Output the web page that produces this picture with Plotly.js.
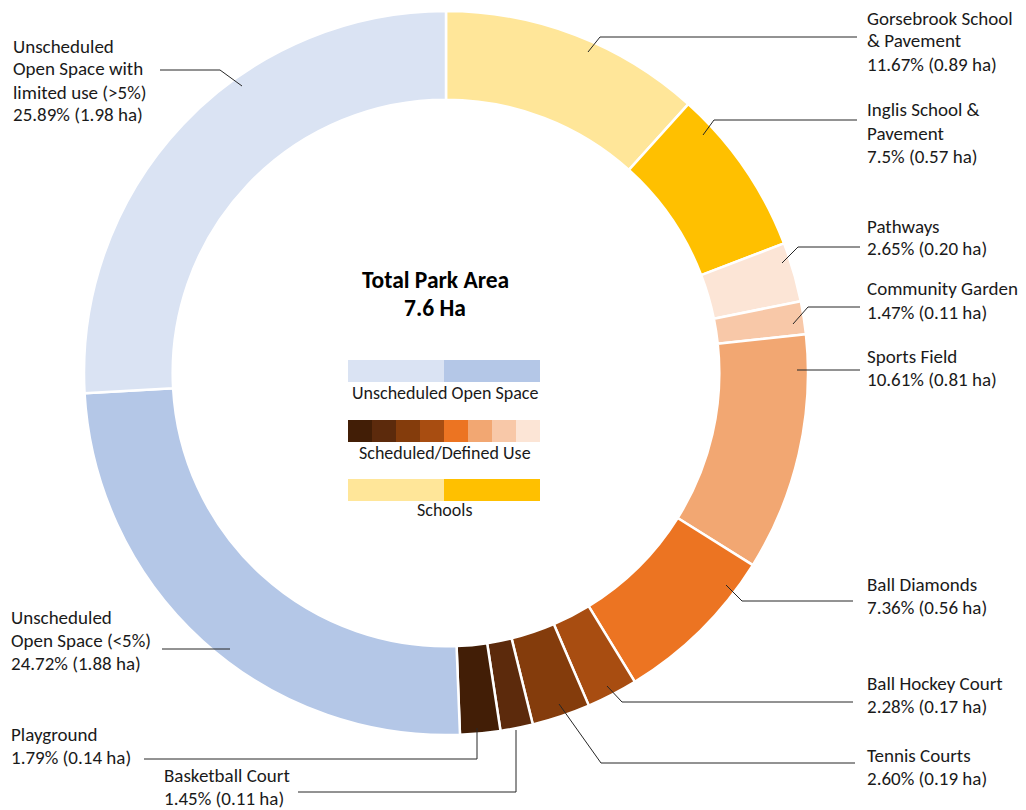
<!DOCTYPE html>
<html><head><meta charset="utf-8">
<script src="https://cdn.plot.ly/plotly-3.0.1.min.js"></script>
<style>html,body{margin:0;padding:0;background:#fff}#chart{width:1026px;height:810px}</style>
</head><body><div id="chart"></div>
<script>
// ---- data ----
const categories = ["Gorsebrook School & Pavement","Inglis School & Pavement","Pathways","Community Garden","Sports Field","Ball Diamonds","Ball Hockey Court","Tennis Courts","Basketball Court","Playground","Unscheduled Open Space (<5%)","Unscheduled Open Space with limited use (>5%)"];
const percents = [11.67, 7.5, 2.65, 1.47, 10.61, 7.36, 2.28, 2.60, 1.45, 1.79, 24.72, 25.89];
const percentLabels = ["11.67%","7.5%","2.65%","1.47%","10.61%","7.36%","2.28%","2.60%","1.45%","1.79%","24.72%","25.89%"];
const hectareLabels = ["0.89","0.57","0.20","0.11","0.81","0.56","0.17","0.19","0.11","0.14","1.88","1.98"];
const nameLines = [["Gorsebrook School","& Pavement"],["Inglis School &","Pavement"],["Pathways"],["Community Garden"],["Sports Field"],["Ball Diamonds"],["Ball Hockey Court"],["Tennis Courts"],["Basketball Court"],["Playground"],["Unscheduled","Open Space (<5%)"],["Unscheduled","Open Space with","limited use (>5%)"]];
const colors = ["#FFE699","#FFC000","#FCE5D6","#F8C8A8","#F2A772","#EC7422","#A84D11","#843C0C","#5C2A0C","#421E06","#B4C7E7","#DAE3F3"];
const centerTitle = ["Total Park Area","7.6 Ha"];
const legendGroups = [
  {label:"Unscheduled Open Space", members:[11,10]},
  {label:"Scheduled/Defined Use", members:[9,8,7,6,5,4,3,2]},
  {label:"Schools", members:[0,1]}
];

// ---- layout (pixel positions) ----
const W = 1026, H = 810;
const px = x => x / W, py = y => 1 - y / H;
const FONT = "Carlito, Lato, 'Open Sans', sans-serif";
const labelPos = [[866,18],[866,110],[866,226],[866,289],[866,356],[866,584],[866,683],[866,755],[163,775],[10,734],[10,617],[12,46]];
const leaders = [
  [[588,52],[600,37],[857,37]],
  [[703,135],[714,120],[857,120]],
  [[782,263],[798,247],[860,247]],
  [[793,324],[808,307],[860,307]],
  [[797,370],[860,370]],
  [[726,585],[742,601],[853,601]],
  [[607,686],[622,702],[853,702]],
  [[559,704],[601,763],[855,763]],
  [[516,730],[516,792],[298,792]],
  [[477,728],[477,759],[144,759]],
  [[230,649],[162,649]],
  [[242,86],[220,70],[160,70]]
];
const LINE_H = 23;

const annotations = [];
const shapes = [];
categories.forEach((c, i) => {
  const lines = nameLines[i].concat([percentLabels[i] + " (" + hectareLabels[i] + " ha)"]);
  lines.forEach((t, k) => {
    annotations.push({xref:'paper', yref:'paper', x:px(labelPos[i][0]), y:py(labelPos[i][1] + k*LINE_H),
      xanchor:'left', yanchor:'middle', showarrow:false, text:t, borderpad:0,
      font:{family:FONT, size:19, color:'#1a1a1a'}});
  });
  const pts = leaders[i];
  const path = pts.map((p, k) => (k ? 'L' : 'M') + px(p[0]) + ',' + py(p[1])).join(' ');
  shapes.push({type:'path', xref:'paper', yref:'paper', path:path, line:{color:'#262626', width:1}});
});

// center title
centerTitle.forEach((t, k) => {
  annotations.push({xref:'paper', yref:'paper', x:px(435), y:py(280 + k*28), xanchor:'center', yanchor:'middle',
    showarrow:false, text:'<b>' + t + '</b>', font:{family:FONT, size:23.5, color:'#000'}});
});

// legend swatches
const legTop = [360, 420, 479], legLabelY = [393, 453, 510];
const legX0 = 348, legX1 = 540, swH = 22;
legendGroups.forEach((g, gi) => {
  const n = g.members.length, w = (legX1 - legX0) / n;
  g.members.forEach((m, k) => {
    shapes.push({type:'rect', xref:'paper', yref:'paper', x0:px(legX0 + k*w), x1:px(legX0 + (k+1)*w),
      y0:py(legTop[gi]), y1:py(legTop[gi] + swH), fillcolor:colors[m], line:{width:0}});
  });
  annotations.push({xref:'paper', yref:'paper', x:px(445), y:py(legLabelY[gi]), xanchor:'center', yanchor:'middle',
    showarrow:false, text:g.label, font:{family:FONT, size:18, color:'#1a1a1a'}});
});

const cx = 446, cy = 373, R = 362;
const trace = {
  type:'pie', values:percents, labels:categories, sort:false, direction:'clockwise', rotation:0,
  hole:0.755, textinfo:'none', hoverinfo:'label+percent', showlegend:false,
  marker:{colors:colors, line:{color:'#ffffff', width:2.5}},
  domain:{x:[px(cx - R), px(cx + R)], y:[py(cy + R), py(cy - R)]}
};

Plotly.newPlot('chart', [trace], {
  width:W, height:H, margin:{l:0, r:0, t:0, b:0},
  paper_bgcolor:'#fff', plot_bgcolor:'#fff', showlegend:false,
  annotations:annotations, shapes:shapes, font:{family:FONT}
}, {displayModeBar:false, staticPlot:true});
</script></body></html>
